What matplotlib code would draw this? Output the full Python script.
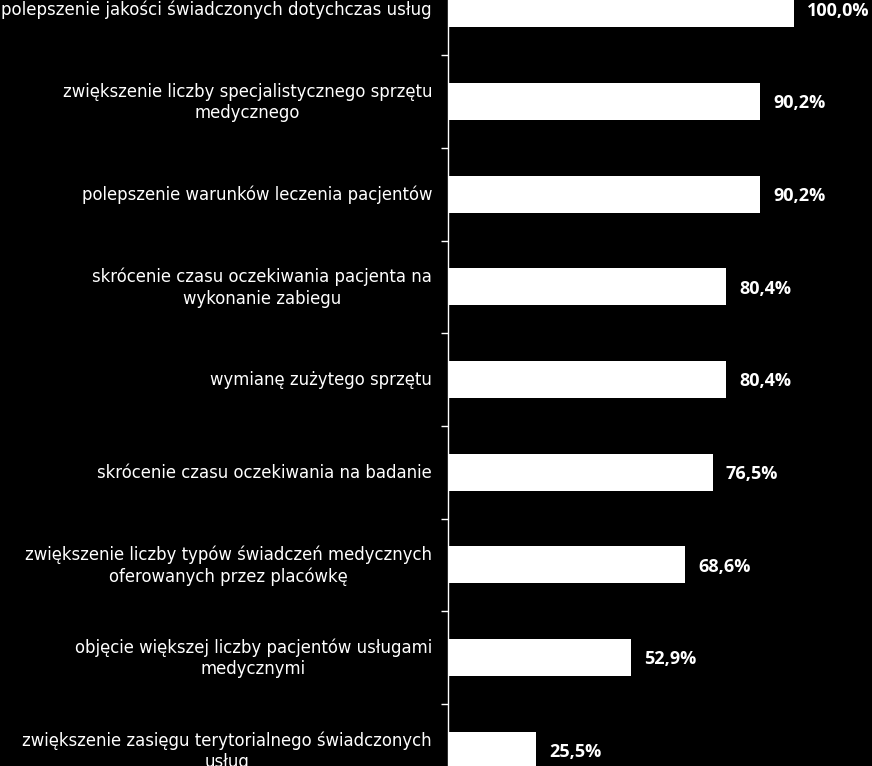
import matplotlib
matplotlib.use("Agg")
import matplotlib.pyplot as plt

categories = [
    "polepszenie jakości świadczonych dotychczas usług",
    "zwiększenie liczby specjalistycznego sprzętu\nmedycznego",
    "polepszenie warunków leczenia pacjentów",
    "skrócenie czasu oczekiwania pacjenta na\nwykonanie zabiegu",
    "wymianę zużytego sprzętu",
    "skrócenie czasu oczekiwania na badanie",
    "zwiększenie liczby typów świadczeń medycznych\noferowanych przez placówkę",
    "objęcie większej liczby pacjentów usługami\nmedycznymi",
    "zwiększenie zasięgu terytorialnego świadczonych\nusług",
]
values = [100.0, 90.2, 90.2, 80.4, 80.4, 76.5, 68.6, 52.9, 25.5]
value_labels = ["100,0%", "90,2%", "90,2%", "80,4%", "80,4%", "76,5%", "68,6%", "52,9%", "25,5%"]

plt.rcParams['font.family'] = ['DejaVu Sans']

fig = plt.figure(figsize=(8.72, 7.66), dpi=100, facecolor='black')
ax = fig.add_axes([448 / 872, 0, 1 - 448 / 872, 1], facecolor='black')

pos = list(range(len(categories)))
ax.barh(pos, values, height=0.4, color='white')

# ticks sit between the categories
ax.set_yticks([p + 0.5 for p in pos])
ax.set_yticklabels([])
ax.set_xticks([])
ax.set_xlim(0, 100 * 424 / 346)
ax.set_ylim(8.17, -0.095)

for i, (v, lab) in enumerate(zip(values, value_labels)):
    ax.text(v + 3.8, i + 0.02, lab, color='white', fontsize=13, fontweight='bold',
            family=['Open Sans', 'DejaVu Sans'], va='center', ha='left')

for i, cat in enumerate(categories):
    fs = 12 if i == 0 else 11.9
    ax.text(-4.6, i + 0.01, cat, color='white', fontsize=fs, ha='right', va='center',
            multialignment='center', linespacing=1.25, clip_on=False)

ax.tick_params(axis='y', colors='white', length=5, width=1, direction='out')
for side in ['top', 'right', 'bottom']:
    ax.spines[side].set_visible(False)
ax.spines['left'].set_color('white')
ax.spines['left'].set_linewidth(1)

fig.savefig('out.png', dpi=100, facecolor='black')
